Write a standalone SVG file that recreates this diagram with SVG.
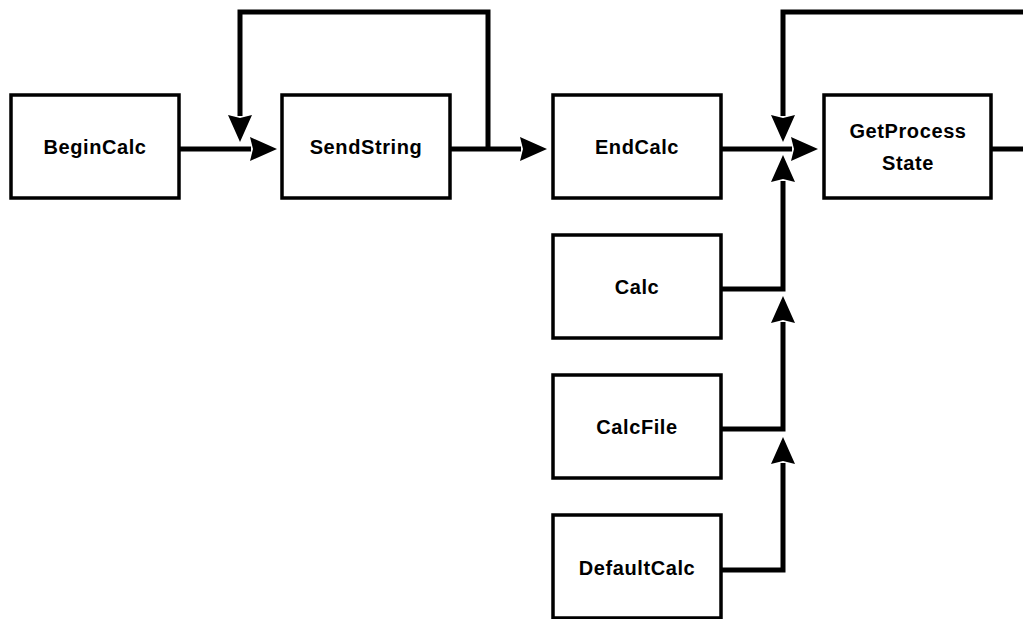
<svg xmlns="http://www.w3.org/2000/svg" width="1023" height="619" viewBox="0 0 1023 619">
<style>
.box{fill:#fff;stroke:#000;stroke-width:3.5}
.lbl{font-family:"Liberation Sans",Arial,sans-serif;font-weight:bold;font-size:20px;letter-spacing:0.6px;text-anchor:middle;fill:#000}
.con{fill:none;stroke:#000;stroke-width:5;stroke-linejoin:miter;stroke-linecap:butt}
</style>
<defs>
<marker id="ah" markerUnits="userSpaceOnUse" markerWidth="28" markerHeight="26" refX="1" refY="12" orient="auto" overflow="visible">
<path d="M0,0 L27,12 L0,24 L3,12 z" fill="#000"/>
</marker>
</defs>
<rect width="1023" height="619" fill="#fff"/>
<g id="connectors">
<path class="con" d="M179,149 H251" marker-end="url(#ah)"/>
<path class="con" d="M449,149 H521" marker-end="url(#ah)"/>
<path class="con" d="M488,151 V12 H240 V116" marker-end="url(#ah)"/>
<path class="con" d="M721,149 H792" marker-end="url(#ah)"/>
<path class="con" d="M991,149 H1030"/>
<path class="con" d="M1030,12 H783 V116" marker-end="url(#ah)"/>
<path class="con" d="M721,289 H783 V181" marker-end="url(#ah)"/>
<path class="con" d="M721,429 H783 V322" marker-end="url(#ah)"/>
<path class="con" d="M721,570 H783 V463" marker-end="url(#ah)"/>
</g>
<g id="BeginCalc"><rect class="box" x="11" y="95" width="168" height="103"/><text class="lbl" x="95" y="154">BeginCalc</text></g>
<g id="SendString"><rect class="box" x="282" y="95" width="168" height="103"/><text class="lbl" x="366" y="154">SendString</text></g>
<g id="EndCalc"><rect class="box" x="553" y="95" width="168" height="103"/><text class="lbl" x="637" y="154">EndCalc</text></g>
<g id="GetProcessState"><rect class="box" x="824" y="95" width="167" height="103"/><text class="lbl" x="908" y="138">GetProcess</text><text class="lbl" x="908" y="170">State</text></g>
<g id="Calc"><rect class="box" x="553" y="235" width="168" height="103"/><text class="lbl" x="637" y="294">Calc</text></g>
<g id="CalcFile"><rect class="box" x="553" y="375" width="168" height="103"/><text class="lbl" x="637" y="434">CalcFile</text></g>
<g id="DefaultCalc"><rect class="box" x="553" y="515" width="168" height="103"/><text class="lbl" x="637" y="575">DefaultCalc</text></g>
</svg>
